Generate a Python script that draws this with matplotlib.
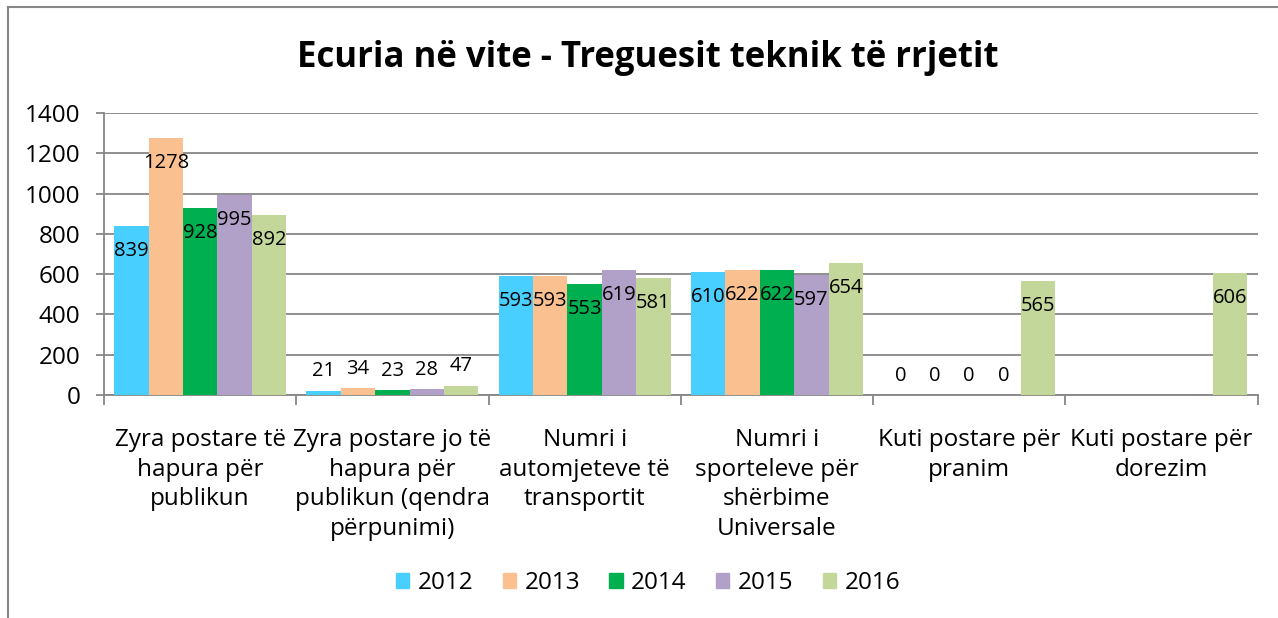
import matplotlib
matplotlib.use("Agg")
import matplotlib.pyplot as plt
from matplotlib.lines import Line2D
from matplotlib.patches import Patch
import numpy as np

plt.rcParams['font.family'] = ['Open Sans', 'DejaVu Sans']

# te dhenat
categories = [
    "Zyra postare të\nhapura për\npublikun",
    "Zyra postare jo të\nhapura për\npublikun (qendra\npërpunimi)",
    "Numri i\nautomjeteve të\ntransportit",
    "Numri i\nsporteleve për\nshërbime\nUniversale",
    "Kuti postare për\npranim",
    "Kuti postare për\ndorezim",
]
years = ["2012", "2013", "2014", "2015", "2016"]
v2012 = [839, 21, 593, 610, 0, np.nan]
v2013 = [1278, 34, 593, 622, 0, np.nan]
v2014 = [928, 23, 553, 622, 0, np.nan]
v2015 = [995, 28, 619, 597, 0, np.nan]
v2016 = [892, 47, 581, 654, 565, 606]
colors = ["#48CFFF", "#FAC090", "#00B050", "#B1A0C7", "#C4D79B"]

series = [v2012, v2013, v2014, v2015, v2016]

fig = plt.figure(figsize=(12.78, 6.18), dpi=100)
ax = fig.add_axes([0.0814, 0.3608, 0.9026, 0.4564])

# ramja e grafikut
fig.add_artist(Line2D([8/1278, 8/1278], [0, 1 - 7/618], color="#878787", lw=1.5,
                      transform=fig.transFigure))
fig.add_artist(Line2D([8/1278, 1], [1 - 7/618, 1 - 7/618], color="#878787", lw=1.5,
                      transform=fig.transFigure))

x = np.arange(len(categories))
w = 0.179
grid_c = "#868686"
for i, (vals, col) in enumerate(zip(series, colors)):
    pos = x + (i - 2) * w
    ax.bar(pos, vals, width=w, color=col, zorder=3)
    for px, v in zip(pos, vals):
        if np.isnan(v):
            continue
        if v < 100:
            ax.annotate(f"{int(v)}", (px, v), xytext=(0, 14), textcoords="offset points",
                        ha="center", va="center", fontsize=14.5, zorder=4)
        else:
            ax.annotate(f"{int(v)}", (px, v), xytext=(0, -18), textcoords="offset points",
                        ha="center", va="center", fontsize=14.5, zorder=4)

ax.set_xlim(-0.5, len(categories) - 0.5)
ax.set_ylim(0, 1400)
ax.set_yticks(range(0, 1401, 200))
ax.yaxis.grid(True, color=grid_c, lw=1.3, zorder=0)
for s in ["top", "right"]:
    ax.spines[s].set_visible(False)
ax.spines["left"].set_color(grid_c)
ax.spines["bottom"].set_color(grid_c)
ax.spines["left"].set_linewidth(1.3)
ax.spines["bottom"].set_linewidth(1.3)

ax.set_xticks(np.arange(-0.5, len(categories), 1.0))
ax.set_xticklabels([])
ax.tick_params(axis="x", which="major", length=7, color=grid_c, width=1.3)
ax.set_xticks(x, minor=True)
ax.set_xticklabels(categories, minor=True, fontsize=17.5, linespacing=1.3)
ax.tick_params(axis="x", which="minor", length=0, pad=24)
for t in ax.get_xticklabels(minor=True):
    t.set_verticalalignment("top")
ax.tick_params(axis="y", length=6, color=grid_c, width=1.3, labelsize=17.5, pad=11)

fig.text(648/1278, 1 - 58/618, "Ecuria në vite - Treguesit teknik të rrjetit",
         ha="center", va="center", fontsize=25, fontweight="bold")

handles = [Patch(color=c) for c in colors]
fig.legend(handles, years, loc="center", bbox_to_anchor=(648/1278, 1 - 583/618),
           ncol=5, frameon=False, fontsize=17.5, handlelength=0.55, handleheight=0.55,
           handletextpad=0.35, columnspacing=1.2)

fig.savefig("out.png", dpi=100)
